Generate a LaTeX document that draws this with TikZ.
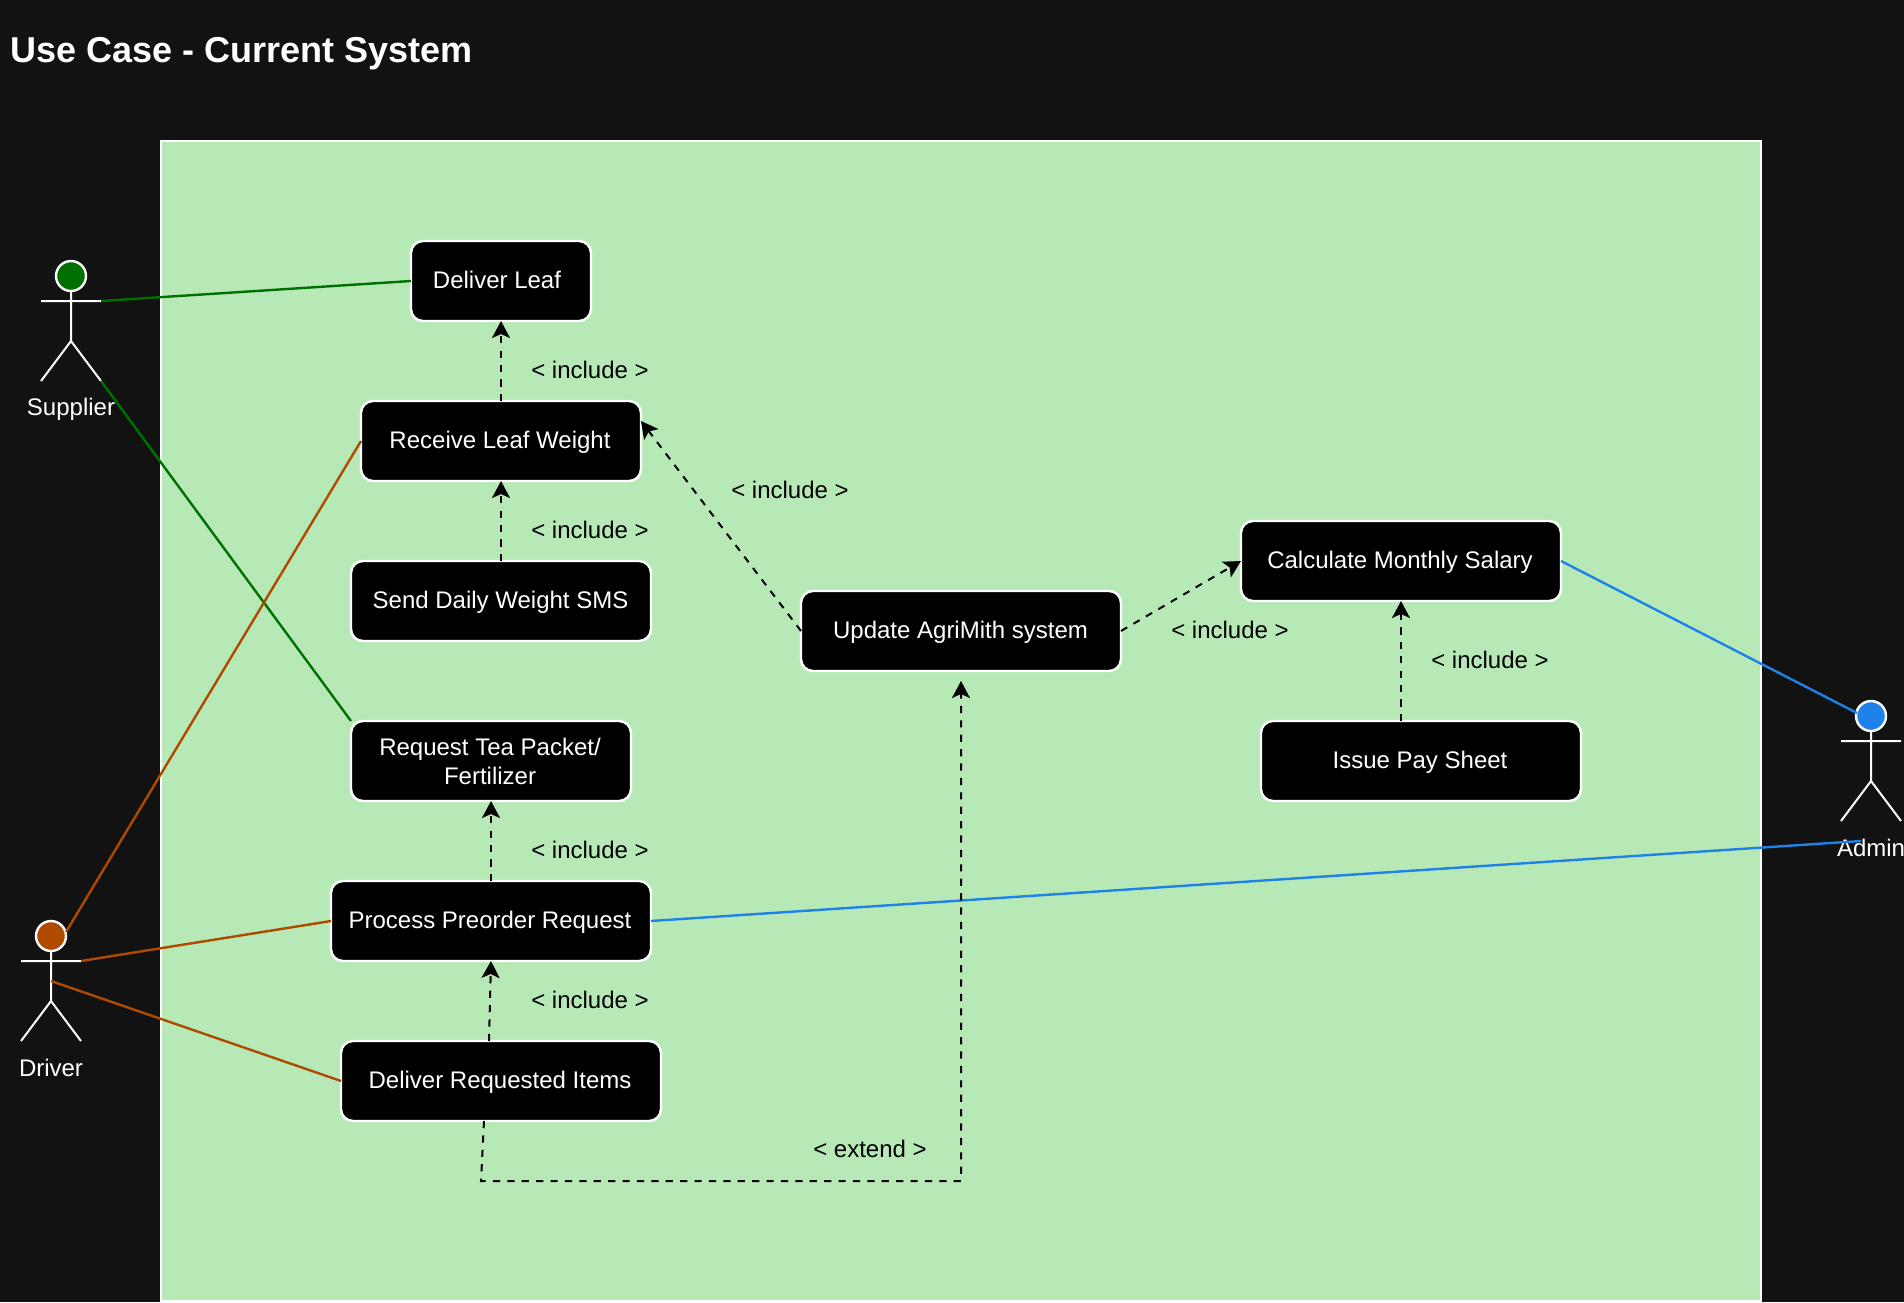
\documentclass[tikz,border=0pt]{standalone}
\usepackage{fontspec}
\setmainfont{Liberation Sans}
\usetikzlibrary{arrows.meta}
\definecolor{bgc}{HTML}{121212}
\definecolor{panelc}{HTML}{B6E9B6}
\definecolor{greenc}{HTML}{007000}
\definecolor{brownc}{HTML}{B04A00}
\definecolor{bluec}{HTML}{1F82EA}
\tikzset{
  x=1pt,y=-1pt,
  ucbox/.style={draw=white,fill=black,text=white,rounded corners=12pt,inner sep=0pt,outer sep=0pt,
    align=center,text height=18pt,text depth=4pt,font=\fontsize{24}{29}\selectfont},
  lbl/.style={text=black,inner sep=0pt,font=\fontsize{24}{29}\selectfont},
  actorlabel/.style={text=white,inner sep=0pt,font=\fontsize{24}{29}\selectfont},
  actorhead/.style={circle,draw=white,minimum size=30pt,inner sep=0pt,outer sep=0pt},
  limb/.style={draw=white,line width=2pt},
  rel/.style={draw=black,line width=2pt,dash pattern=on 7.2pt off 7.2pt,-{Stealth[length=17pt,width=18pt,inset=4pt]}},
  assoc/.style={line width=2.4pt}
}
\begin{document}
\begin{tikzpicture}[line width=2.4pt]
\useasboundingbox (0,0) rectangle (1904,1302);
\fill[bgc] (0,0) rectangle (1904,1302);
\draw[white,fill=panelc] (161,141) rectangle (1761,1301);
\node[anchor=west,text=white,inner sep=0pt,font=\fontsize{36}{42}\selectfont\bfseries] (title) at (9,54) {Use Case - Current System};

% use case boxes
\node[ucbox,minimum width=180pt,minimum height=80pt] (leaf) at (501,281) {Deliver Leaf\hspace*{8pt}};
\node[ucbox,minimum width=280pt,minimum height=80pt] (recv) at (501,441) {Receive Leaf Weight\hspace*{2pt}};
\node[ucbox,minimum width=300pt,minimum height=80pt] (sms) at (501,601) {Send Daily Weight SMS\hspace*{1pt}};
\node[ucbox,minimum width=280pt,minimum height=80pt,text height=,text depth=] (tea) at (491,761) {Request Tea Packet/\hspace*{2pt}\\Fertilizer\hspace*{2pt}};
\node[ucbox,minimum width=320pt,minimum height=80pt] (proc) at (491,921) {Process Preorder Request\hspace*{2pt}};
\node[ucbox,minimum width=320pt,minimum height=80pt] (items) at (501,1081) {Deliver Requested Items\hspace*{2pt}};
\node[ucbox,minimum width=320pt,minimum height=80pt] (upd) at (961,631) {Update AgriMith system\hspace*{1pt}};
\node[ucbox,minimum width=320pt,minimum height=80pt] (sal) at (1401,561) {Calculate Monthly Salary\hspace*{2pt}};
\node[ucbox,minimum width=320pt,minimum height=80pt] (pay) at (1421,761) {Issue Pay Sheet\hspace*{2pt}};

% actors
\node[actorhead,fill=greenc] (suphead) at (71,276) {};
\node[actorhead,fill=brownc] (drvhead) at (51,936) {};
\node[actorhead,fill=bluec] (admhead) at (1871,716) {};
\coordinate (suparmL) at (41,301); \coordinate (suparmR) at (101,301);
\coordinate (suphip) at (71,341); \coordinate (supfootL) at (41,381); \coordinate (supfootR) at (101,381);
\coordinate (drvarmL) at (21,961); \coordinate (drvarmR) at (81,961);
\coordinate (drvhip) at (51,1001); \coordinate (drvfootL) at (21,1041); \coordinate (drvfootR) at (81,1041);
\coordinate (drvbody) at (51,981); \coordinate (drvneck) at (66,932);
\coordinate (admarmL) at (1841,741); \coordinate (admarmR) at (1901,741);
\coordinate (admhip) at (1871,781); \coordinate (admfootL) at (1841,821); \coordinate (admfootR) at (1901,821);
\coordinate (admtouch) at (1857,713); \coordinate (admend) at (1861,841);
\draw[limb] (suphead.south) -- (suphip) (suparmL) -- (suparmR) (supfootL) -- (suphip) -- (supfootR);
\draw[limb] (drvhead.south) -- (drvhip) (drvarmL) -- (drvarmR) (drvfootL) -- (drvhip) -- (drvfootR);
\draw[limb] (admhead.south) -- (admhip) (admarmL) -- (admarmR) (admfootL) -- (admhip) -- (admfootR);
\node[actorlabel] (suplabel) at (71,409) {Supplier};
\node[actorlabel] (drvlabel) at (51,1068) {Driver};
\node[actorlabel] (admlabel) at (1871,848) {Admin};

% associations
\draw[assoc,greenc] (suparmR) -- (leaf.west);
\draw[assoc,greenc] (supfootR) -- (tea.north west);
\draw[assoc,brownc] (drvneck) -- (recv.west);
\draw[assoc,brownc] (drvarmR) -- (proc.west);
\draw[assoc,brownc] (drvbody) -- (items.west);
\draw[assoc,bluec] (sal.east) -- (admtouch);
\draw[assoc,bluec] (proc.east) -- (admend);

% dependencies
\coordinate (recvin) at (641,421);
\coordinate (updin) at (961,681);
\coordinate (itemsout) at (484,1121);
\coordinate (ext1) at (481,1181);
\coordinate (ext2) at (961,1181);
\coordinate (salin) at (1401,601);
\coordinate (payout) at (1401,721);
\coordinate (itemsup) at (489,1041);
\coordinate (procin) at (491,961);
\draw[rel] (recv.north) -- (leaf.south);
\draw[rel] (sms.north) -- (recv.south);
\draw[rel] (upd.west) -- (recvin);
\draw[rel] (upd.east) -- (sal.west);
\draw[rel] (payout) -- (salin);
\draw[rel] (proc.north) -- (tea.south);
\draw[rel] (itemsup) -- (procin);
\draw[rel] (itemsout) -- (ext1) -- (ext2) -- (updin);

% labels
\node[lbl] (l1) at (590,370) {< include >};
\node[lbl] (l2) at (590,530) {< include >};
\node[lbl] (l3) at (790,490) {< include >};
\node[lbl] (l4) at (1230,630) {< include >};
\node[lbl] (l5) at (1490,660) {< include >};
\node[lbl] (l6) at (590,850) {< include >};
\node[lbl] (l7) at (590,1000) {< include >};
\node[lbl] (l8) at (870,1149) {< extend >};
\end{tikzpicture}
\end{document}
